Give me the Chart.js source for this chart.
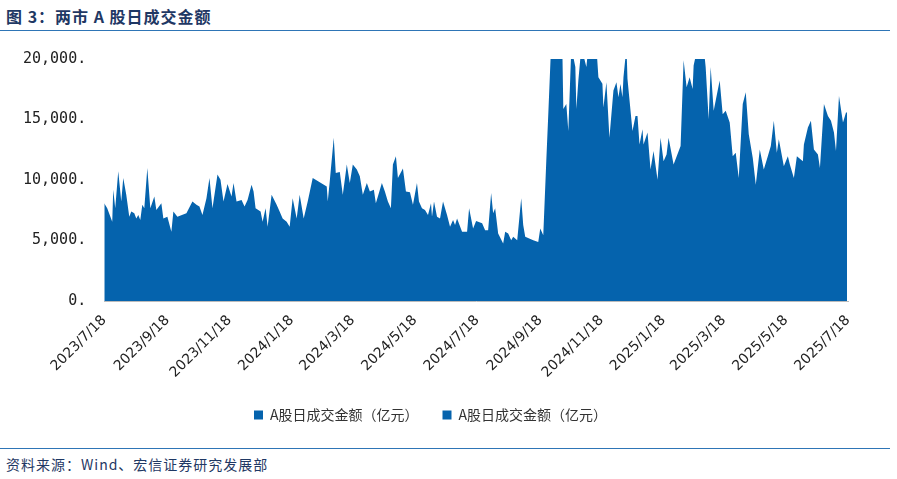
<!DOCTYPE html><html><head><meta charset="utf-8">
<script src="https://cdn.jsdelivr.net/npm/chart.js@4"></script>
<style>
body{margin:0;width:897px;height:479px;background:#fff;font-family:"Noto Sans CJK SC";position:relative;overflow:hidden}
#t{position:absolute;left:6px;top:4px;font-size:16px;font-weight:bold;color:#1f3864;letter-spacing:1px}
#l1{position:absolute;left:0;top:30px;width:890px;border-top:1.5px solid #2e75b6}
#l2{position:absolute;left:0;top:448px;width:890px;border-top:1.5px solid #2e75b6}
#s{position:absolute;left:6px;top:454px;font-size:14px;color:#1f3864;letter-spacing:1px}
#w{position:absolute;left:0;top:40px;width:897px;height:392px}
</style></head><body>
<div id="t">图 3：两市 A 股日成交金额</div><div id="l1"></div>
<div id="w"><canvas id="c"></canvas></div>
<div id="l2"></div><div id="s">资料来源：Wind、宏信证券研究发展部</div>
<script>
const days=[0,3,8,9,11,14,17,19,22,25,27,30,32,34,36,38,40,43,46,50,52,57,59,63,67,69,73,82,88,92,95,98,102,105,108,113,116,119,123,127,129,132,137,140,143,147,149,151,156,158,161,163,167,172,175,178,182,185,188,192,195,199,203,208,222,223,225,229,231,235,238,242,245,248,252,255,258,262,265,269,271,277,280,283,286,288,291,293,298,301,305,308,312,314,317,320,323,326,327,329,332,335,338,342,345,348,350,352,357,362,364,368,371,377,380,383,386,388,390,393,398,400,403,406,408,412,416,418,420,428,433,435,438,441,443,446,457,458,461,463,466,470,471,473,476,481,483,491,493,497,498,501,504,508,511,513,515,517,518,521,522,527,530,532,534,537,538,542,545,548,552,555,558,561,563,568,575,578,581,584,587,588,592,598,600,603,605,608,612,614,617,620,624,627,630,633,637,640,643,647,650,654,658,662,665,668,671,673,678,682,684,688,691,697,698,702,705,708,712,714,718,722,725,728,730,733,737,740,741];
const turnover=[8080,7670,6560,9190,7670,10720,8220,10170,8780,6970,7390,7250,6830,7110,6700,7950,7670,11000,7670,8640,7530,8080,6830,6970,5720,7390,6970,7250,8220,7950,7810,7110,8500,10170,7670,10450,10030,8220,9670,8640,9750,8220,8360,7810,8360,9610,9060,7670,7390,6560,7670,6140,8780,7950,7390,6830,6560,6140,8500,6830,8780,6830,8220,10170,9470,8220,9890,13500,10580,10670,8780,11280,9750,11280,10860,10310,8780,9750,9060,9190,8080,9750,9060,8220,7670,11280,11970,10170,10950,9060,9000,7950,9750,8220,7670,7530,7110,8080,6970,8220,6970,6830,8220,7110,6140,6700,6280,6830,5720,5720,7670,6000,6610,6420,5860,5860,8920,7250,7670,5580,4750,5720,5580,5030,5310,5030,8500,6280,5310,5030,4890,6000,5440,11560,15440,21500,21000,15860,16280,14060,21000,19330,15860,18220,21000,19330,21000,21000,18500,17950,16000,18080,13500,17390,18080,16830,17940,16830,18500,21000,18360,14060,15300,15300,12940,14190,12940,13920,10860,12390,10030,13500,11560,12110,13500,11280,12810,19890,17670,18500,17530,19470,21000,21000,19330,15030,19330,15720,17390,18220,15440,15720,14750,11970,12250,10170,16280,17250,13780,11830,9610,12530,10860,11970,12810,14890,12250,13360,11140,11970,11280,10170,11970,11560,12940,14330,14890,12530,12110,11000,16280,15300,14890,13920,12390,16950,14750,15580,15580];
const tickDays=[0,63,125,187,248,310,372,435,496,558,618,680,742];
const tickLabels=["2023/7/18","2023/9/18","2023/11/18","2024/1/18","2024/3/18","2024/5/18","2024/7/18","2024/9/18","2024/11/18","2025/1/18","2025/3/18","2025/5/18","2025/7/18"];
const yTicks=[0,5000,10000,15000,20000];
const label="A股日成交金额（亿元）";
const pts=days.map((d,i)=>({x:d,y:turnover[i]}));
new Chart(document.getElementById('c'),{type:'line',data:{datasets:[
{label:label,data:pts,fill:'origin',backgroundColor:'#0563ad',borderColor:'#0563ad',borderWidth:0,pointRadius:0,tension:0},
{label:label,data:[],backgroundColor:'#0563ad',borderColor:'#0563ad',borderWidth:0}]},
options:{responsive:true,maintainAspectRatio:false,animation:false,
layout:{padding:{left:13,right:49,top:18}},
plugins:{tooltip:{enabled:false},legend:{position:'bottom',labels:{boxWidth:9,boxHeight:9,font:{size:14,family:'Noto Sans CJK SC'},color:'#333',padding:24}}},
scales:{x:{type:'linear',min:0,max:742,grid:{display:false,drawTicks:true},border:{color:'#bbb'},
afterBuildTicks:a=>{a.ticks=tickDays.map(v=>({value:v}));},
ticks:{maxRotation:45,minRotation:45,autoSkip:false,font:{size:14,family:'DejaVu Sans'},color:'#222',callback:(v)=>tickLabels[tickDays.indexOf(v)]}},
y:{min:0,max:20000,grid:{display:false},border:{display:false},
afterBuildTicks:a=>{a.ticks=yTicks.map(v=>({value:v}));},
ticks:{font:{size:15,family:'DejaVu Sans Mono'},color:'#222',padding:10,callback:v=>v.toLocaleString('en-US')+'.'}}}}});
</script></body></html>
